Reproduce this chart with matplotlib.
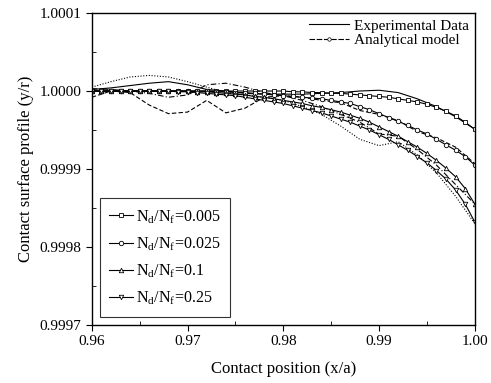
import matplotlib
matplotlib.use("Agg")
import matplotlib.pyplot as plt
from matplotlib.lines import Line2D
from matplotlib.ticker import MultipleLocator, FormatStrFormatter

plt.rcParams['font.family'] = ['Liberation Serif', 'DejaVu Serif']
plt.rcParams['mathtext.fontset'] = 'custom'
plt.rcParams['mathtext.rm'] = 'Liberation Serif'

# Analytical model: x positions (x/a) and deviations of y/r from 1 in units of 1e-6
x_model = [0.960, 0.961, 0.962, 0.963, 0.964, 0.965, 0.966, 0.967, 0.968, 0.969,
           0.970, 0.971, 0.972, 0.973, 0.974, 0.975, 0.976, 0.977, 0.978, 0.979,
           0.980, 0.981, 0.982, 0.983, 0.984, 0.985, 0.986, 0.987, 0.988, 0.989,
           0.990, 0.991, 0.992, 0.993, 0.994, 0.995, 0.996, 0.997, 0.998, 0.999, 1.000]
model_005 = [0, 0, 0, 0, 0, 0, 0, 0, 0, 0,
             0, 0, 0, 0, 0, 0, 0, 0, 0, 0,
             0, -1, -1, -2, -2, -3, -3, -4, -5, -6,
             -7, -8, -10, -12, -14, -17, -21, -26, -32, -40, -49]
model_025 = [0, 0, 0, 0, 0, 0, 0, 0, 0, 0,
             0, 0, 0, -1, -1, -2, -2, -3, -4, -5,
             -6, -7, -8, -9, -10, -12, -14, -16, -20, -24,
             -29, -34, -39, -44, -50, -55, -62, -69, -76, -84, -95]
model_1 = [0, 0, 0, 0, 0, 0, 0, 0, 0, 0,
           0, -1, -1, -2, -3, -4, -5, -7, -8, -10,
           -12, -14, -16, -19, -21, -24, -27, -31, -35, -40,
           -46, -52, -58, -65, -72, -80, -89, -99, -110, -125, -145]
model_25 = [0, 0, 0, 0, 0, 0, 0, 0, 0, -1,
            -1, -2, -3, -4, -5, -6, -8, -10, -12, -14,
            -16, -19, -22, -25, -28, -32, -36, -40, -45, -50,
            -56, -62, -69, -76, -84, -92, -102, -113, -127, -145, -168]

# Experimental data: deviations of y/r from 1 in units of 1e-6
x_exp = [0.960, 0.962, 0.964, 0.966, 0.968, 0.970, 0.972, 0.974, 0.976, 0.978,
         0.980, 0.982, 0.984, 0.986, 0.988, 0.990, 0.992, 0.994, 0.996, 0.998, 1.000]
exp_005 = [2, 4, 7, 10, 12, 8, 2, 0, -3, -4,
           -4, -4, -3, -2, 0, 1, -2, -10, -20, -33, -49]
exp_025 = [-8, 0, -2, -18, -29, -27, -12, -28, -22, -8,
           -6, -8, -12, -15, -25, -30, -38, -52, -60, -72, -93]
exp_1 = [3, 2, 0, -3, -8, -5, 8, 10, 5, -2,
         -6, -12, -20, -30, -40, -55, -58, -75, -95, -120, -145]
exp_25 = [5, 12, 18, 20, 18, 12, 5, -2, -5, -8,
          -12, -20, -30, -45, -62, -70, -65, -82, -105, -135, -170]

legend_labels = [r'N$_\mathrm{d}$/N$_\mathrm{f}$=0.005', r'N$_\mathrm{d}$/N$_\mathrm{f}$=0.025',
                 r'N$_\mathrm{d}$/N$_\mathrm{f}$=0.1', r'N$_\mathrm{d}$/N$_\mathrm{f}$=0.25']
markers = ['s', 'o', '^', 'v']
exp_styles = ['-', (0, (4, 2)), (0, (5, 2, 1, 2)), (0, (1, 1.5))]


def to_ratio(devs):
    return [1.0 + d * 1e-6 for d in devs]


fig = plt.figure(figsize=(4.91, 3.83), dpi=100)
ax = fig.add_axes([0.187, 0.1514, 0.780, 0.8146])

models = [model_005, model_025, model_1, model_25]
exps = [exp_005, exp_025, exp_1, exp_25]

for devs, ls in zip(exps, exp_styles):
    ax.plot(x_exp, to_ratio(devs), color='black', lw=0.8, linestyle=ls)

handles = []
for devs, mk, lab in zip(models, markers, legend_labels):
    h, = ax.plot(x_model, to_ratio(devs), color='black', lw=0.8,
                 marker=mk, markersize=3.2, markerfacecolor='white',
                 markeredgewidth=0.6, label=lab)
    handles.append(h)

ax.set_xlim(0.96, 1.00)
ax.set_ylim(0.9997, 1.0001)
ax.xaxis.set_major_locator(MultipleLocator(0.01))
ax.xaxis.set_minor_locator(MultipleLocator(0.005))
ax.yaxis.set_major_locator(MultipleLocator(0.0001))
ax.yaxis.set_minor_locator(MultipleLocator(0.00005))
ax.xaxis.set_major_formatter(FormatStrFormatter('%.2f'))
ax.yaxis.set_major_formatter(FormatStrFormatter('%.4f'))
ax.tick_params(which='major', direction='out', length=4, width=0.8, labelsize=11)
ax.tick_params(which='minor', direction='in', length=3, width=0.6)
for s in ax.spines.values():
    s.set_linewidth(1.0)

ax.set_xlabel('Contact position (x/a)', fontsize=12, labelpad=9)
ax.set_ylabel('Contact surface profile (y/r)', fontsize=12)

h_exp = Line2D([], [], color='black', lw=0.8, linestyle='-')
h_mod = Line2D([], [], color='black', lw=0.8, linestyle=(0, (5, 1.5)),
               marker='o', markersize=2.5, markerfacecolor='white', markeredgewidth=0.5)
leg1 = ax.legend([h_exp, h_mod], ['Experimental Data', 'Analytical model'],
                 loc='upper right', frameon=False, fontsize=11,
                 handlelength=2.6, borderaxespad=0.1, labelspacing=0.05,
                 handletextpad=0.3, borderpad=0.3)
ax.add_artist(leg1)

leg2 = ax.legend(handles=handles, loc='lower left', fontsize=11.5,
                 frameon=True, fancybox=False, edgecolor='black',
                 handlelength=1.5, labelspacing=0.6, handletextpad=0.15,
                 borderaxespad=0.5, borderpad=0.6)
leg2.get_frame().set_linewidth(0.8)

fig.savefig('out.png', dpi=100)
